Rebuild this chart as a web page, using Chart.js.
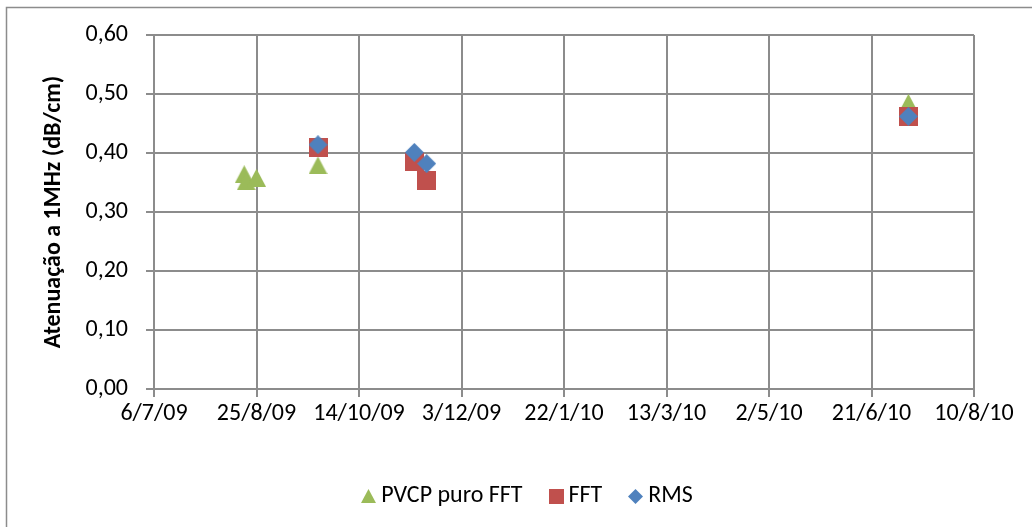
<!DOCTYPE html>
<html>
<head>
<meta charset="utf-8">
<title>Atenuação a 1MHz</title>
<script src="https://cdn.jsdelivr.net/npm/chart.js@4.4.1/dist/chart.umd.min.js"></script>
<style>
    html, body { margin: 0; padding: 0; background: #ffffff; }
    #wrap { position: relative; width: 1032px; height: 527px; }
</style>
</head>
<body>
<div id="wrap"><canvas id="chart" width="1032" height="527"></canvas></div>
<script>
// Axis range (dates, every 50 days)
const ORIGIN = '2009-07-06';
const X_MAX_DAYS = 400;
const X_STEP_DAYS = 50;
const Y_MIN = 0;
const Y_MAX = 0.6;
const Y_STEP = 0.1;

// PVCP puro FFT
const pvcpDates = ['2009-08-19', '2009-08-20', '2009-08-25', '2009-09-24', '2010-07-09'];
const pvcpValues = [0.364, 0.352, 0.358, 0.379, 0.485];

// FFT
const fftDates = ['2009-09-24', '2009-11-10', '2009-11-16', '2010-07-09'];
const fftValues = [0.410, 0.385, 0.354, 0.462];

// RMS
const rmsDates = ['2009-09-24', '2009-11-10', '2009-11-16', '2010-07-09'];
const rmsValues = [0.414, 0.401, 0.382, 0.462];

const seriesLabels = ['PVCP puro FFT', 'FFT', 'RMS'];
const seriesColors = ['#9BBB59', '#C0504D', '#4F81BD'];

const FONT = 'Carlito, Lato, "Open Sans", sans-serif';
const FONT_SIZE = 24;
const GRID_COLOR = '#8c8c8c';

const DAY_MS = 24 * 3600 * 1000;
const originMs = Date.parse(ORIGIN + 'T00:00:00Z');

/**
 * Days since the axis origin for an ISO date.
 */
function dayOffset(iso) {
    return Math.round((Date.parse(iso + 'T00:00:00Z') - originMs) / DAY_MS);
}

/**
 * Formats a day offset as d/m/yy.
 */
function formatDay(offset) {
    const d = new Date(originMs + offset * DAY_MS);
    const yy = String(d.getUTCFullYear() % 100).padStart(2, '0');
    return d.getUTCDate() + '/' + (d.getUTCMonth() + 1) + '/' + yy;
}

function toPoints(dates, values) {
    return dates.map((d, i) => ({ x: dayOffset(d), y: values[i] }));
}

/**
 * Small canvas marker so the point shapes keep the spreadsheet look.
 */
function makeMarker(shape, w, h, color) {
    const c = document.createElement('canvas');
    c.width = w;
    c.height = h;
    const g = c.getContext('2d');
    g.fillStyle = color;
    g.beginPath();
    if (shape === 'triangle') {
        g.moveTo(w / 2, 0);
        g.lineTo(w, h);
        g.lineTo(0, h);
    } else if (shape === 'diamond') {
        g.moveTo(w / 2, 0);
        g.lineTo(w, h / 2);
        g.lineTo(w / 2, h);
        g.lineTo(0, h / 2);
    } else {
        g.rect(0, 0, w, h);
    }
    g.closePath();
    g.fill();
    return c;
}

const pointMarkers = [
    makeMarker('triangle', 19, 18, seriesColors[0]),
    makeMarker('square', 19, 19, seriesColors[1]),
    makeMarker('diamond', 19, 19, seriesColors[2])
];
const legendMarkers = [
    makeMarker('triangle', 15, 14, seriesColors[0]),
    makeMarker('square', 15, 15, seriesColors[1]),
    makeMarker('diamond', 15, 15, seriesColors[2])
];

// Legend drawn under the plot, centred on a given x
const bottomLegend = {
    id: 'bottomLegend',
    afterDraw(chart, args, opts) {
        const ctx = chart.ctx;
        ctx.save();
        ctx.font = opts.fontSize + 'px ' + FONT;
        ctx.textBaseline = 'middle';
        ctx.fillStyle = '#000000';
        const items = chart.data.datasets.map((ds, i) => ({
            text: ds.label,
            icon: legendMarkers[i],
            width: ctx.measureText(ds.label).width
        }));
        const total = items.reduce((s, it) => s + it.icon.width + opts.gap + it.width, 0)
            + opts.spacing * (items.length - 1);
        let x = opts.centerX - total / 2;
        items.forEach(it => {
            ctx.drawImage(it.icon, Math.round(x), Math.round(opts.y - it.icon.height / 2));
            x += it.icon.width + opts.gap;
            ctx.fillText(it.text, x, opts.y);
            x += it.width + opts.spacing;
        });
        ctx.restore();
    }
};

// Outer chart frame
const chartFrame = {
    id: 'chartFrame',
    beforeDraw(chart) {
        const ctx = chart.ctx;
        ctx.save();
        ctx.fillStyle = '#ffffff';
        ctx.fillRect(0, 0, chart.width, chart.height);
        ctx.strokeStyle = '#8c8c8c';
        ctx.lineWidth = 1.5;
        ctx.strokeRect(6.5, 7.5, chart.width + 10, chart.height + 10);
        ctx.restore();
    }
};

// RMS on top, then FFT, then PVCP underneath
const drawOrder = [2, 1, 0];

const datasets = [
    toPoints(pvcpDates, pvcpValues),
    toPoints(fftDates, fftValues),
    toPoints(rmsDates, rmsValues)
].map((data, i) => ({
    label: seriesLabels[i],
    data: data,
    order: drawOrder[i],
    pointStyle: pointMarkers[i],
    backgroundColor: seriesColors[i],
    borderColor: seriesColors[i],
    showLine: false
}));

new Chart(document.getElementById('chart'), {
    type: 'scatter',
    data: { datasets: datasets },
    options: {
        responsive: false,
        animation: false,
        events: [],
        layout: { padding: { left: 40, right: 58, top: 35, bottom: 80 } },
        plugins: {
            legend: { display: false },
            tooltip: { enabled: false },
            bottomLegend: { fontSize: FONT_SIZE, gap: 5, spacing: 26, centerX: 527, y: 496 }
        },
        scales: {
            x: {
                type: 'linear',
                min: 0,
                max: X_MAX_DAYS,
                afterFit: scale => { scale.height = 58; },
                afterBuildTicks: scale => {
                    const ticks = [];
                    for (let v = 0; v <= X_MAX_DAYS; v += X_STEP_DAYS) ticks.push({ value: v });
                    scale.ticks = ticks;
                },
                grid: { color: GRID_COLOR, lineWidth: 2, tickLength: 8, tickColor: GRID_COLOR },
                border: { color: GRID_COLOR, width: 2 },
                ticks: {
                    color: '#000000',
                    font: { family: FONT, size: FONT_SIZE },
                    padding: 3,
                    maxRotation: 0,
                    autoSkip: false,
                    callback: v => formatDay(v)
                }
            },
            y: {
                min: Y_MIN,
                max: Y_MAX,
                afterFit: scale => { scale.width = 114; },
                grid: { color: GRID_COLOR, lineWidth: 2, tickLength: 8, tickColor: GRID_COLOR },
                border: { color: GRID_COLOR, width: 2 },
                title: {
                    display: true,
                    text: 'Atenuação a 1MHz (dB/cm)',
                    color: '#000000',
                    font: { family: FONT, size: FONT_SIZE, weight: 'bold' },
                    padding: { top: 0, bottom: 0 }
                },
                ticks: {
                    stepSize: Y_STEP,
                    color: '#000000',
                    font: { family: FONT, size: FONT_SIZE },
                    padding: 18,
                    callback: v => v.toFixed(2).replace('.', ',')
                }
            }
        }
    },
    plugins: [chartFrame, bottomLegend]
});
</script>
</body>
</html>
